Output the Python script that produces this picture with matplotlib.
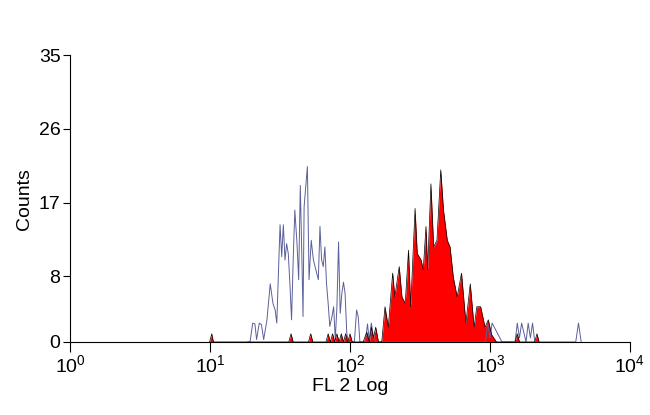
import matplotlib
matplotlib.use("Agg")
import matplotlib.pyplot as plt
import numpy as np

plt.rcParams['font.family'] = ['Liberation Sans', 'DejaVu Sans']

# channel (256 per decade) and counts
blank_ch = [325, 329, 334, 338, 341, 346, 350, 354, 360, 366, 371, 375, 378, 382, 384,
            387, 390, 393, 396, 399, 402, 405, 408, 411, 415, 418, 421, 424, 426, 428,
            432, 434, 437, 441, 445, 448, 451, 454, 457, 460, 463, 466, 469, 472, 475,
            479, 482, 485, 488, 491, 494, 497, 500, 503, 506, 509, 520, 524, 527, 530,
            540, 544, 547, 551, 555, 560, 700, 760, 764, 768, 772, 790, 814, 818, 822,
            826, 834, 838, 842, 846, 850, 925, 930, 935]
blank_ct = [0, 0, 2.3, 2.2, 0.3, 2.3, 2.1, 0.3, 2.7, 7.1, 4.7, 3.9, 2.3, 10.4, 14.3,
            10.4, 14.3, 10, 12, 10.8, 7.1, 2.7, 10, 16.1, 12, 7.6, 19.1, 10, 3.1, 16.5,
            19.8, 21.4, 7.6, 12.4, 10, 9.2, 8.4, 7.6, 14.1, 10, 9.2, 11.6, 7.1, 4.7, 1.9,
            3.1, 4.3, 0.3, 4.3, 12.2, 3.5, 5.9, 7.3, 5.9, 1.1, 0, 0, 3.9, 3.1, 0,
            0, 2.2, 0.3, 2.3, 0.5, 0, 0, 0, 2.3, 0.5, 2.3, 0, 0, 2.3, 0.5,
            2.3, 0, 2.3, 0.5, 2.3, 0, 0, 2.3, 0]

sample_ch = [255, 259, 262, 265, 400, 404, 408, 412, 436, 440, 444, 468, 472, 476, 480,
             484, 488, 492, 496, 500, 504, 508, 512, 516, 530, 536, 542.6, 547.5, 551,
             555, 559, 564, 570, 576, 582, 590, 594, 602, 607, 613, 619, 623, 631, 635,
             642, 646, 651, 654, 660, 665, 671, 678, 683, 690, 695, 701, 708, 716, 724,
             732, 739, 744, 751, 759, 765, 771, 780, 814, 818, 822, 850, 854, 858]
sample_ct = [0, 1, 0, 0, 0, 1, 0, 0, 0, 1, 0, 0, 1, 0, 1,
             0, 1, 0, 1, 0, 1, 0, 1, 0, 0, 0, 1.2, 0, 1.8,
             0.5, 1.8, 0, 0, 4.3, 1.8, 8.4, 5.5, 9.2, 5.5, 4.7, 11.2, 4.3, 16.3, 10.8,
             10, 8.8, 14.1, 8.8, 19.3, 11.6, 12.4, 21, 16.1, 12.4, 11.6, 7.9, 5.5, 8.4, 2.3,
             7.1, 1.8, 4.3, 4.3, 1.8, 2.7, 0.9, 0, 0, 1, 0, 0, 1, 0]

fig = plt.figure(figsize=(6.5, 4.15), dpi=100)
ax = fig.add_axes([0.108, 0.176, 0.861, 0.691])

bx = 10 ** (np.array(blank_ch) / 256)
sx = 10 ** (np.array(sample_ch) / 256)
ax.plot(bx, blank_ct, color='#5b6098', lw=0.7)
ax.fill_between(sx, sample_ct, 0, color='#ff0000', lw=0)
ax.plot(sx, sample_ct, color='black', lw=0.5)

ax.set_xscale('log')
ax.set_xlim(1, 1e4)
ax.set_ylim(0, 35)
ax.set_yticks([0, 8, 17, 26, 35])
ax.set_xticks([1, 10, 100, 1000, 10000])
ax.set_xticklabels([r'$\mathregular{10^{%d}}$' % i for i in range(5)])
ax.minorticks_off()
ax.tick_params(labelsize=14, length=5, width=0.8, pad=2)
ax.tick_params(axis='x', length=7)
for s in ['top', 'right']:
    ax.spines[s].set_visible(False)
ax.set_xlabel('FL 2 Log', fontsize=14, labelpad=1)
ax.set_ylabel('Counts', fontsize=14, labelpad=4)

fig.savefig('out.png', dpi=100)
